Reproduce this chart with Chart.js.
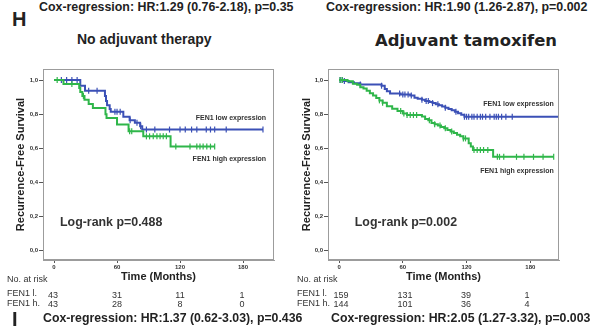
<!DOCTYPE html>
<html>
<head>
<meta charset="utf-8">
<script src="https://cdn.jsdelivr.net/npm/chart.js@4.4.1/dist/chart.umd.min.js"></script>
<style>
    body { margin: 0; background: #fff; width: 606px; height: 327px; overflow: hidden; position: relative; font-family: "Liberation Sans", Arial, sans-serif; color: #222; }
    .t { position: absolute; white-space: nowrap; line-height: 1; }
    .b { font-weight: bold; }
    .risk { font-size: 9px; color: #333; }
    .num { transform: translateX(-50%); }
    canvas { position: absolute; }
</style>
</head>
<body>
<div class="t b" style="left:12px;top:9px;font-size:20px;">H</div>
<div class="t b" style="left:39px;top:1px;font-size:12.4px;">Cox-regression: HR:1.29 (0.76-2.18), p=0.35</div>
<div class="t b" style="left:326px;top:1px;font-size:12.4px;">Cox-regression: HR:1.90 (1.26-2.87), p=0.002</div>
<div class="t b" style="left:77px;top:31.5px;font-size:14px;">No adjuvant therapy</div>
<div class="t b" style="left:375px;top:33px;font-size:16.4px;font-family:'DejaVu Sans',Verdana,sans-serif;">Adjuvant tamoxifen</div>

<canvas id="kmLeft" width="270" height="226" style="left:10px;top:62px;"></canvas>
<canvas id="kmRight" width="270" height="226" style="left:296px;top:62px;"></canvas>

<div id="riskLeft"></div>
<div id="riskRight"></div>

<div class="t b" style="left:43px;top:311.5px;font-size:12.3px;">Cox-regression: HR:1.37 (0.62-3.03), p=0.436</div>
<div class="t b" style="left:331px;top:311.5px;font-size:12.3px;">Cox-regression: HR:2.05 (1.27-3.32), p=0.003</div>
<div class="t b" style="left:12px;top:309px;font-size:20px;">I</div>

<script>
// tick labels
const xTicks = [0, 60, 120, 180];
const yTicks = [0, 0.2, 0.4, 0.6, 0.8, 1.0];

// no adjuvant therapy - FEN1 low (blue)
const noAdjLowTime = [0, 25, 29.5, 48.5, 49.5, 50.5, 53, 54, 66, 72, 77, 82, 84, 199];
const noAdjLowSurv = [1, 0.967, 0.937, 0.907, 0.878, 0.853, 0.83, 0.814, 0.785, 0.765, 0.75, 0.73, 0.71, 0.71];
const noAdjLowCens = [7, 12, 17, 22, 33, 41, 58, 60, 63, 72.5, 79, 82.5, 88, 96, 110, 120, 125, 131, 136, 145, 149, 153, 164, 199];
// no adjuvant therapy - FEN1 high (green)
const noAdjHighTime = [0, 9, 24, 25, 27, 29, 33, 37, 49, 50, 60, 71, 85, 111, 153];
const noAdjHighSurv = [1, 0.977, 0.953, 0.93, 0.907, 0.884, 0.86, 0.837, 0.80, 0.777, 0.74, 0.70, 0.67, 0.61, 0.61];
const noAdjHighCens = [3, 17, 28, 72, 74, 88, 91, 94.5, 98, 101, 104, 107, 116, 129.5, 136, 139, 142, 145.5, 149, 153];

// adjuvant tamoxifen - FEN1 low (blue)
const adjLowTime = [0, 4, 9, 14, 20, 40, 43, 45, 48, 58, 67, 71, 74, 78, 81, 85, 88, 91, 94, 97, 100, 103, 106, 109, 112, 115, 118, 207];
const adjLowSurv = [1, 0.994, 0.987, 0.981, 0.974, 0.967, 0.948, 0.935, 0.922, 0.916, 0.909, 0.897, 0.89, 0.884, 0.878, 0.871, 0.865, 0.858, 0.852, 0.845, 0.838, 0.83, 0.823, 0.815, 0.806, 0.797, 0.785, 0.785];
const adjLowCens = [1, 3, 5, 20, 40, 57, 60, 62, 65, 68, 78, 82, 84, 88, 93, 100, 110, 118, 120, 122, 125, 127, 130, 133, 135, 138, 142, 146, 148, 150, 153, 157, 163, 207];
// adjuvant tamoxifen - FEN1 high (green)
const adjHighTime = [0, 8, 13, 17, 20, 23, 26, 29, 32, 35, 38, 41, 45, 50, 55, 60, 64, 78, 81, 84, 87, 90, 93, 96, 99, 102, 105, 108, 111, 114, 117, 122, 124, 126, 145, 202];
const adjHighSurv = [1, 0.993, 0.979, 0.972, 0.958, 0.951, 0.937, 0.923, 0.909, 0.895, 0.881, 0.867, 0.846, 0.832, 0.818, 0.804, 0.795, 0.787, 0.772, 0.764, 0.749, 0.741, 0.733, 0.725, 0.717, 0.708, 0.699, 0.69, 0.68, 0.67, 0.658, 0.63, 0.61, 0.59, 0.55, 0.55];
const adjHighCens = [1, 3, 38, 41, 58, 61, 64, 67, 70, 73, 85, 90, 95, 100, 106, 117, 119, 127, 130, 133, 136, 140, 149, 151, 155, 167, 174, 183, 192, 202];

// numbers at risk
const riskLabels = ["FEN1 l.", "FEN1 h."];
const noAdjRiskLow = [43, 31, 11, 1];
const noAdjRiskHigh = [43, 28, 8, 0];
const adjRiskLow = [159, 131, 39, 1];
const adjRiskHigh = [144, 101, 36, 4];

const blue = "#3b50b6";
const green = "#2fb64a";

// survival value of a step curve at time t
function survAt(times, surv, t) {
    let s = surv[0];
    for (let i = 0; i < times.length; i++) {
        if (times[i] <= t) s = surv[i];
    }
    return s;
}

const framePlugin = {
    id: "frame",
    afterDatasetsDraw(chart, args, opts) {
        const { ctx, chartArea: a, scales } = chart;
        ctx.save();
        ctx.strokeStyle = "#9c9c9c";
        ctx.lineWidth = 1;
        ctx.strokeRect(a.left + 0.5, a.top + 0.5, a.width - 1, a.height - 1);
        ctx.fillStyle = "#333";
        ctx.textBaseline = "middle";
        opts.notes.forEach((n) => {
            ctx.font = n.font;
            ctx.textAlign = n.align;
            ctx.fillText(n.text, scales.x.getPixelForValue(n.x), scales.y.getPixelForValue(n.y));
        });
        ctx.restore();
    },
};

function kmChart(id, xMin, xMax, yWidth, padRight, low, high, notes) {
    const curve = (times, surv, color) => ({
        data: times.map((t, i) => ({ x: t, y: surv[i] })),
        showLine: true,
        stepped: true,
        borderColor: color,
        borderWidth: 2,
        pointRadius: 0,
        fill: false,
    });
    const cens = (c, times, surv, color) => ({
        data: c.map((t) => ({ x: t, y: survAt(times, surv, t) })),
        showLine: false,
        pointStyle: "line",
        rotation: 90,
        pointRadius: 3,
        borderColor: color,
        borderWidth: 1.2,
    });
    return new Chart(document.getElementById(id), {
        type: "scatter",
        data: {
            datasets: [
                curve(high[0], high[1], green),
                cens(high[2], high[0], high[1], green),
                curve(low[0], low[1], blue),
                cens(low[2], low[0], low[1], blue),
            ],
        },
        options: {
            responsive: false,
            animation: false,
            events: [],
            layout: { padding: { top: 7, right: padRight, left: 0, bottom: 0 } },
            scales: {
                x: {
                    type: "linear",
                    min: xMin,
                    max: xMax,
                    afterBuildTicks: (s) => { s.ticks = xTicks.map((v) => ({ value: v })); },
                    afterFit: (s) => { s.height = 28; },
                    grid: { drawOnChartArea: false, tickLength: 3, color: "#555" },
                    border: { color: "#9c9c9c" },
                    ticks: { font: { size: 6, weight: "bold" }, color: "#333", padding: 1, maxRotation: 0 },
                    title: { display: true, text: "Time (Months)", font: { size: 11, weight: "bold" }, color: "#222", padding: { top: 0, bottom: 4 } },
                },
                y: {
                    min: -0.055,
                    max: 1.065,
                    afterBuildTicks: (s) => { s.ticks = yTicks.map((v) => ({ value: v })); },
                    afterFit: (s) => { s.width = yWidth; },
                    grid: { drawOnChartArea: false, tickLength: 4, color: "#555" },
                    border: { color: "#9c9c9c" },
                    ticks: {
                        font: { size: 6, weight: "bold" },
                        color: "#333",
                        padding: 1,
                        callback: (v) => v.toFixed(1).replace(".", ","),
                    },
                    title: { display: true, text: "Recurrence-Free Survival", font: { size: 11, weight: "bold" }, color: "#222", padding: { top: 4, bottom: 0 } },
                },
            },
            plugins: {
                legend: { display: false },
                tooltip: { enabled: false },
                frame: { notes: notes },
            },
        },
        plugins: [framePlugin],
    });
}

Chart.defaults.font.family = "'Liberation Sans', Arial, sans-serif";

kmChart("kmLeft", -10.5, 209.5, 33, 6,
    [noAdjLowTime, noAdjLowSurv, noAdjLowCens],
    [noAdjHighTime, noAdjHighSurv, noAdjHighCens],
    [
        { text: "FEN1 low expression", x: 202, y: 0.775, align: "right", font: "bold 7px 'Liberation Sans', Arial" },
        { text: "FEN1 high expression", x: 202, y: 0.535, align: "right", font: "bold 7px 'Liberation Sans', Arial" },
        { text: "Log-rank p=0.488", x: 5.7, y: 0.165, align: "left", font: "bold 12.4px 'Liberation Sans', Arial" },
    ]);

kmChart("kmRight", -10.4, 207, 32, 7,
    [adjLowTime, adjLowSurv, adjLowCens],
    [adjHighTime, adjHighSurv, adjHighCens],
    [
        { text: "FEN1 low expression", x: 202, y: 0.857, align: "right", font: "bold 7px 'Liberation Sans', Arial" },
        { text: "FEN1 high expression", x: 202, y: 0.468, align: "right", font: "bold 7px 'Liberation Sans', Arial" },
        { text: "Log-rank p=0.002", x: 14.8, y: 0.167, align: "left", font: "bold 12.4px 'Liberation Sans', Arial" },
    ]);

// number-at-risk tables under each plot
function riskTable(id, left, cols, lowRow, highRow) {
    const box = document.getElementById(id);
    let html = '<div class="t risk" style="left:' + left + 'px;top:275px;">No. at risk</div>';
    html += '<div class="t risk" style="left:' + left + 'px;top:289px;">' + riskLabels[0] + "</div>";
    html += '<div class="t risk" style="left:' + left + 'px;top:299px;">' + riskLabels[1] + "</div>";
    for (let i = 0; i < cols.length; i++) {
        html += '<div class="t risk num" style="left:' + cols[i] + 'px;top:291px;">' + lowRow[i] + "</div>";
        html += '<div class="t risk num" style="left:' + cols[i] + 'px;top:299.5px;">' + highRow[i] + "</div>";
    }
    box.innerHTML = html;
}
riskTable("riskLeft", 7, [53, 117, 180, 242], noAdjRiskLow, noAdjRiskHigh);
riskTable("riskRight", 297, [341, 405, 466, 527], adjRiskLow, adjRiskHigh);
</script>
</body>
</html>
